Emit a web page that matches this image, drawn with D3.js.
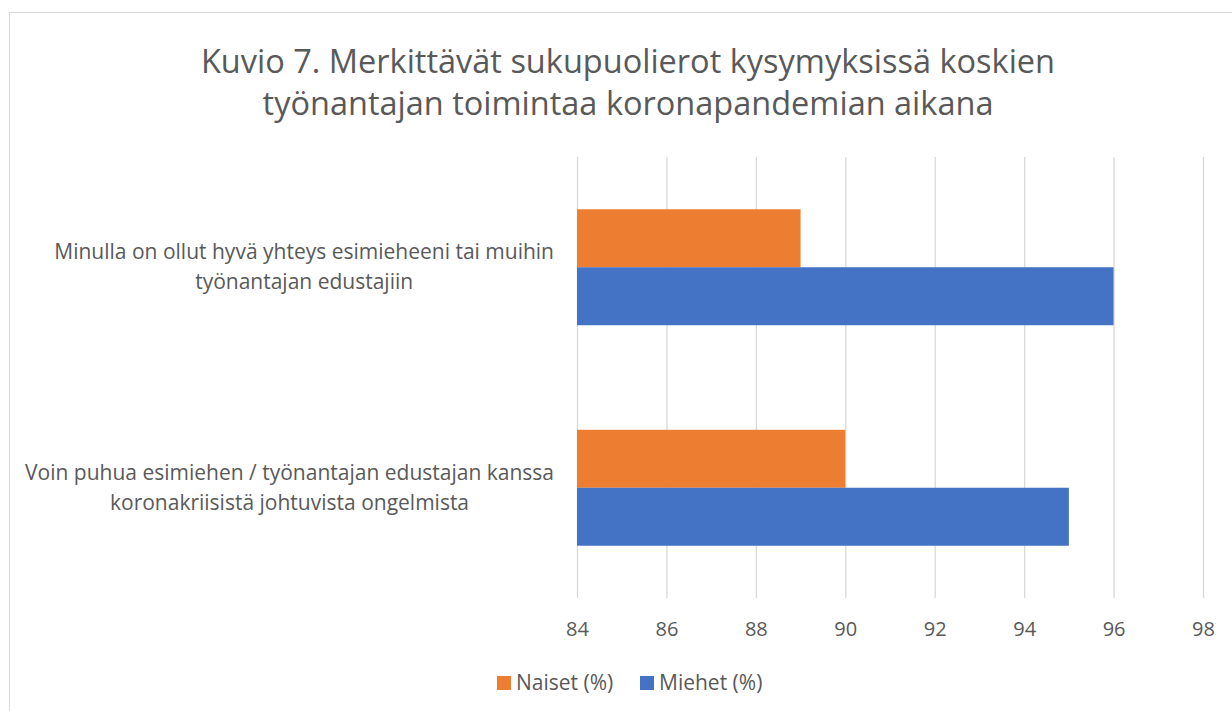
<!DOCTYPE html>
<html><head><meta charset="utf-8">
<script src="https://cdn.jsdelivr.net/npm/d3@7"></script>
<style>body{margin:0;background:#fff}svg{display:block}text{font-family:"Open Sans",sans-serif;fill:#595959}</style>
</head><body><div id="c"></div>
<script>
const titleLines = ["Kuvio 7. Merkittävät sukupuolierot kysymyksissä koskien", "työnantajan toimintaa koronapandemian aikana"];
const categories = ["Minulla on ollut hyvä yhteys esimieheeni tai muihin|työnantajan edustajiin", "Voin puhua esimiehen / työnantajan edustajan kanssa|koronakriisistä johtuvista ongelmista"];
const seriesNames = ["Naiset (%)", "Miehet (%)"];
const naiset = [89, 90];
const miehet = [96, 95];
const tickValues = [84, 86, 88, 90, 92, 94, 96, 98];
const colors = ["#ED7D31", "#4472C4"];

const W = 1232, H = 711;
const svg = d3.select("#c").append("svg").attr("width", W).attr("height", H);
svg.append("rect").attr("x", 9.5).attr("y", 12.5).attr("width", W + 10).attr("height", H + 10)
  .attr("fill", "#fff").attr("stroke", "#d9d9d9");

const plot = {left: 577, right: 1203, top: 157, bottom: 598};
const x = d3.scaleLinear().domain([84, 98]).range([plot.left, plot.right]);
const y = d3.scaleBand().domain(categories).range([plot.top, plot.bottom]).paddingInner(0.474).paddingOuter(0.237);
const ys = d3.scaleBand().domain(seriesNames).range([0, y.bandwidth()]);

// title
svg.append("g").selectAll("text").data(titleLines).join("text")
  .attr("x", 628).attr("y", (d, i) => 73 + i * 42).attr("text-anchor", "middle")
  .attr("font-size", 32.5).text(d => d);

// gridlines
const gx = svg.append("g").attr("transform", `translate(0,${plot.bottom})`)
  .call(d3.axisBottom(x).tickValues(tickValues).tickSize(-(plot.bottom - plot.top)).tickFormat(d3.format("d")));
gx.select(".domain").remove();
gx.selectAll(".tick line").attr("stroke", "#d9d9d9").attr("stroke-width", 1.3);
gx.selectAll(".tick text").attr("font-size", 20).attr("y", 0).attr("dy", "38px").attr("fill", "#595959");

// bars
const data = [naiset, miehet];
seriesNames.forEach((s, si) => {
  svg.append("g").selectAll("rect").data(categories).join("rect")
    .attr("x", x(84)).attr("y", c => y(c) + ys(s))
    .attr("width", (c, i) => x(data[si][i]) - x(84)).attr("height", ys.bandwidth())
    .attr("fill", colors[si]);
});

// category labels: widest line right-aligned at 554, other lines centred on it
const labelRight = 554;
categories.forEach((c, i) => {
  const lines = c.split("|");
  const cy = y(c) + y.bandwidth() / 2;
  const t = svg.append("g").selectAll("text").data(lines).join("text")
    .attr("y", (d, j) => cy - 8 + j * 30).attr("text-anchor", "middle")
    .attr("font-size", 21).text(d => d);
  const maxW = d3.max(t.nodes(), n => n.getComputedTextLength());
  t.attr("x", labelRight - maxW / 2);
});

// legend
const lg = svg.append("g");
const items = [{x: 497, n: seriesNames[0], c: colors[0]}, {x: 640, n: seriesNames[1], c: colors[1]}];
items.forEach(it => {
  lg.append("rect").attr("x", it.x).attr("y", 676).attr("width", 14).attr("height", 14).attr("fill", it.c);
  lg.append("text").attr("x", it.x + 19).attr("y", 690).attr("font-size", 21).text(it.n);
});
</script></body></html>
